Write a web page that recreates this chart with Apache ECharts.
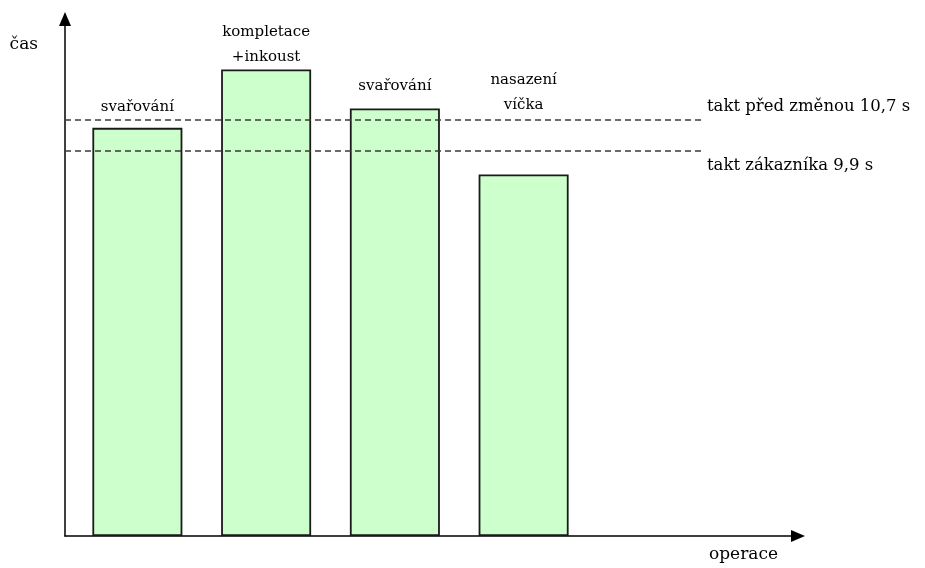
<!DOCTYPE html>
<html>
<head>
<meta charset="utf-8">
<script src="https://cdn.jsdelivr.net/npm/echarts@6/dist/echarts.min.js"></script>
<style>
  html, body { margin: 0; padding: 0; background: #fff; }
  #chart { width: 925px; height: 568px; }
</style>
</head>
<body>
<div id="chart"></div>
<script>
// Operations and their cycle times (s)
const operations = ['svařování', 'kompletace\n+inkoust', 'svařování', 'nasazení\nvíčka'];
const cycleTimes = [10.5, 12.0, 11.0, 9.3];

// Takt reference lines
const taktNames = ['takt před změnou 10,7 s', 'takt zákazníka 9,9 s'];
const taktValues = [10.7, 9.9];

// Layout tweaks for the labels
const labelGaps = [8, 0, 10, 57];
const taktAbove = [true, false];

const yMax = 13.3;
const serif = '"DejaVu Serif", "Liberation Serif", serif';
const ink = '#000';

const chart = echarts.init(document.getElementById('chart'), null, { renderer: 'canvas' });

const taktLines = taktValues.map((v, i) => [
  {
    coord: [0, v],
    label: {
      show: true,
      position: 'end',
      distance: 2,
      // an empty line pushes the caption above or below its line
      formatter: taktAbove[i] ? taktNames[i] + '\n ' : ' \n' + taktNames[i],
      lineHeight: taktAbove[i] ? 26 : 30,
      color: ink,
      fontFamily: serif,
      fontSize: 16.5
    }
  },
  { coord: [0.873, v] }
]);

const arrowLine = {
  show: true,
  lineStyle: { color: ink, width: 1.5 },
  symbol: ['none', 'triangle'],
  symbolSize: [12, 14],
  symbolOffset: [0, 0]
};

chart.setOption({
  animation: false,
  backgroundColor: '#fff',
  grid: [
    { left: 65, right: 127, top: 19, bottom: 32 },
    { left: 73, right: 337, top: 19, bottom: 32 }
  ],
  xAxis: [
    {
      gridIndex: 0, type: 'value', min: 0, max: 1,
      name: 'operace', nameLocation: 'end', nameGap: -20,
      nameTextStyle: { color: ink, fontFamily: serif, fontSize: 17, align: 'right', verticalAlign: 'top', padding: [10, 0, 0, 0] },
      axisLine: arrowLine,
      axisTick: { show: false }, axisLabel: { show: false }, splitLine: { show: false }
    },
    {
      gridIndex: 1, type: 'category', data: operations,
      axisLine: { show: false }, axisTick: { show: false }, axisLabel: { show: false }, splitLine: { show: false }
    }
  ],
  yAxis: [
    {
      gridIndex: 0, type: 'value', min: 0, max: yMax,
      name: 'čas', nameLocation: 'end', nameGap: -34,
      nameTextStyle: { color: ink, fontFamily: serif, fontSize: 17, align: 'right', verticalAlign: 'bottom', padding: [0, 27, 0, 0] },
      axisLine: arrowLine,
      axisTick: { show: false }, axisLabel: { show: false }, splitLine: { show: false }
    },
    {
      gridIndex: 1, type: 'value', min: 0, max: yMax,
      axisLine: { show: false }, axisTick: { show: false }, axisLabel: { show: false }, splitLine: { show: false }
    }
  ],
  series: [
    {
      type: 'bar',
      xAxisIndex: 1, yAxisIndex: 1,
      barWidth: 90,
      data: cycleTimes.map((v, i) => ({
        value: v,
        label: { distance: labelGaps[i] }
      })),
      itemStyle: { color: '#ccffcc', borderColor: '#1a1a1a', borderWidth: 1.8 },
      label: {
        show: true, position: 'top',
        formatter: p => operations[p.dataIndex],
        color: ink, fontFamily: serif, fontSize: 15, lineHeight: 25
      }
    },
    {
      type: 'line',
      xAxisIndex: 0, yAxisIndex: 0,
      data: [],
      silent: true,
      markLine: {
        silent: true,
        symbol: ['none', 'none'],
        lineStyle: { color: '#3a3a3a', type: [6, 4], width: 1.6 },
        data: taktLines
      }
    }
  ]
});
</script>
</body>
</html>
